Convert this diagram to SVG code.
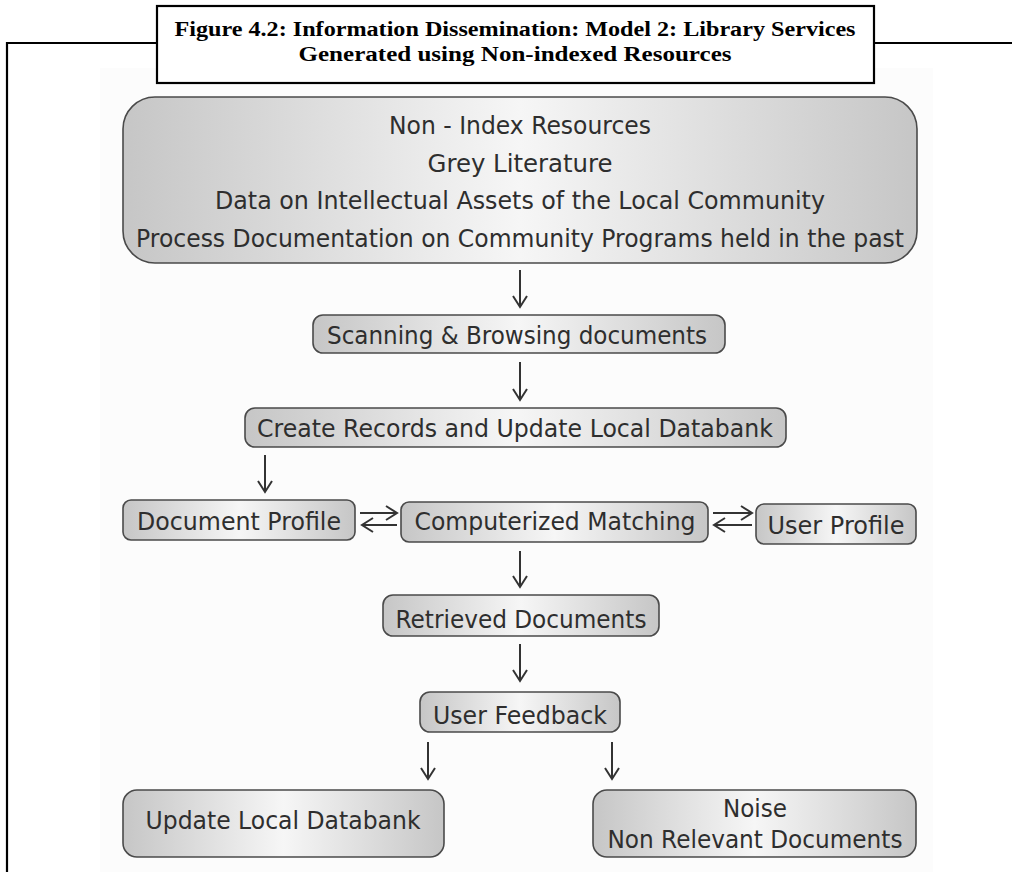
<svg xmlns="http://www.w3.org/2000/svg" width="1012" height="872" viewBox="0 0 1012 872">
<style>
.node{fill:url(#g);stroke:#4a4a4a;stroke-width:1.6}
.t{font-family:"DejaVu Sans","Liberation Sans",sans-serif;font-size:24px;fill:#2e2e2e;text-anchor:middle}
.title{font-family:"Liberation Serif","DejaVu Serif",serif;font-weight:bold;font-size:20px;fill:#000;text-anchor:middle}
.c{stroke:#333;stroke-width:2;fill:none}
</style>
<defs>
<linearGradient id="g" x1="0" y1="0" x2="1" y2="0">
<stop offset="0" stop-color="#c6c6c6"/>
<stop offset="0.5" stop-color="#f6f6f6"/>
<stop offset="1" stop-color="#c6c6c6"/>
</linearGradient>
<marker id="ah" markerUnits="userSpaceOnUse" markerWidth="20" markerHeight="20" viewBox="-14 -10 16 20" refX="0" refY="0" orient="auto">
<path d="M-11,-7 L0,0 L-11,7" fill="none" stroke="#333" stroke-width="2"/>
</marker>
</defs>
<rect x="0" y="0" width="1012" height="872" fill="#fff"/>
<rect x="100" y="68" width="833" height="804" fill="#fcfcfc"/>
<g id="frame" fill="none" stroke="#000" stroke-width="2.2">
<path d="M7,872 V43 H157 M874,43 H1012"/>
</g>
<g id="title">
<rect x="157" y="6" width="717" height="77" fill="#fff" stroke="#000" stroke-width="2.2"/>
<text class="title" x="515" y="36" textLength="681" lengthAdjust="spacingAndGlyphs">Figure 4.2: Information Dissemination: Model 2: Library Services</text>
<text class="title" x="515" y="61" textLength="433" lengthAdjust="spacingAndGlyphs">Generated using Non-indexed Resources</text>
</g>
<g id="n-resources">
<rect class="node" x="123" y="97" width="794" height="166" rx="32"/>
<text class="t" x="520" y="134" textLength="262" lengthAdjust="spacingAndGlyphs">Non - Index Resources</text>
<text class="t" x="520" y="172" textLength="185" lengthAdjust="spacingAndGlyphs">Grey Literature</text>
<text class="t" x="520" y="209" textLength="610" lengthAdjust="spacingAndGlyphs">Data on Intellectual Assets of the Local Community</text>
<text class="t" x="520" y="247" textLength="768" lengthAdjust="spacingAndGlyphs">Process Documentation on Community Programs held in the past</text>
</g>
<g id="n-scanning">
<rect class="node" x="313" y="315" width="412" height="38" rx="10"/>
<text class="t" x="517" y="344" textLength="380" lengthAdjust="spacingAndGlyphs">Scanning &amp; Browsing documents</text>
</g>
<g id="n-create">
<rect class="node" x="245" y="408" width="541" height="39" rx="10"/>
<text class="t" x="515" y="437" textLength="516" lengthAdjust="spacingAndGlyphs">Create Records and Update Local Databank</text>
</g>
<g id="n-docprofile">
<rect class="node" x="123" y="500" width="232" height="40" rx="8"/>
<text class="t" x="239" y="530" textLength="204" lengthAdjust="spacingAndGlyphs">Document Profile</text>
</g>
<g id="n-matching">
<rect class="node" x="401" y="502" width="307" height="40" rx="8"/>
<text class="t" x="555" y="530" textLength="281" lengthAdjust="spacingAndGlyphs">Computerized Matching</text>
</g>
<g id="n-userprofile">
<rect class="node" x="756" y="504" width="160" height="40" rx="8"/>
<text class="t" x="836" y="534" textLength="137" lengthAdjust="spacingAndGlyphs">User Profile</text>
</g>
<g id="n-retrieved">
<rect class="node" x="383" y="595" width="276" height="41" rx="10"/>
<text class="t" x="521" y="628" textLength="251" lengthAdjust="spacingAndGlyphs">Retrieved Documents</text>
</g>
<g id="n-feedback">
<rect class="node" x="420" y="692" width="200" height="40" rx="10"/>
<text class="t" x="520" y="724" textLength="174" lengthAdjust="spacingAndGlyphs">User Feedback</text>
</g>
<g id="n-update">
<rect class="node" x="123" y="790" width="321" height="67" rx="14"/>
<text class="t" x="283" y="829" textLength="275" lengthAdjust="spacingAndGlyphs">Update Local Databank</text>
</g>
<g id="n-noise">
<rect class="node" x="593" y="790" width="323" height="67" rx="14"/>
<text class="t" x="755" y="817" textLength="64" lengthAdjust="spacingAndGlyphs">Noise</text>
<text class="t" x="755" y="848" textLength="295" lengthAdjust="spacingAndGlyphs">Non Relevant Documents</text>
</g>
<g id="connectors">
<line class="c" x1="520" y1="270" x2="520" y2="307" marker-end="url(#ah)"/>
<line class="c" x1="520" y1="362" x2="520" y2="400" marker-end="url(#ah)"/>
<line class="c" x1="265" y1="455" x2="265" y2="492" marker-end="url(#ah)"/>
<line class="c" x1="360" y1="513" x2="397" y2="513" marker-end="url(#ah)"/>
<line class="c" x1="397" y1="525" x2="362" y2="525" marker-end="url(#ah)"/>
<line class="c" x1="713" y1="513" x2="752" y2="513" marker-end="url(#ah)"/>
<line class="c" x1="752" y1="525" x2="714" y2="525" marker-end="url(#ah)"/>
<line class="c" x1="520" y1="551" x2="520" y2="587" marker-end="url(#ah)"/>
<line class="c" x1="520" y1="644" x2="520" y2="681" marker-end="url(#ah)"/>
<line class="c" x1="428" y1="742" x2="428" y2="779" marker-end="url(#ah)"/>
<line class="c" x1="612" y1="742" x2="612" y2="779" marker-end="url(#ah)"/>
</g>
</svg>
